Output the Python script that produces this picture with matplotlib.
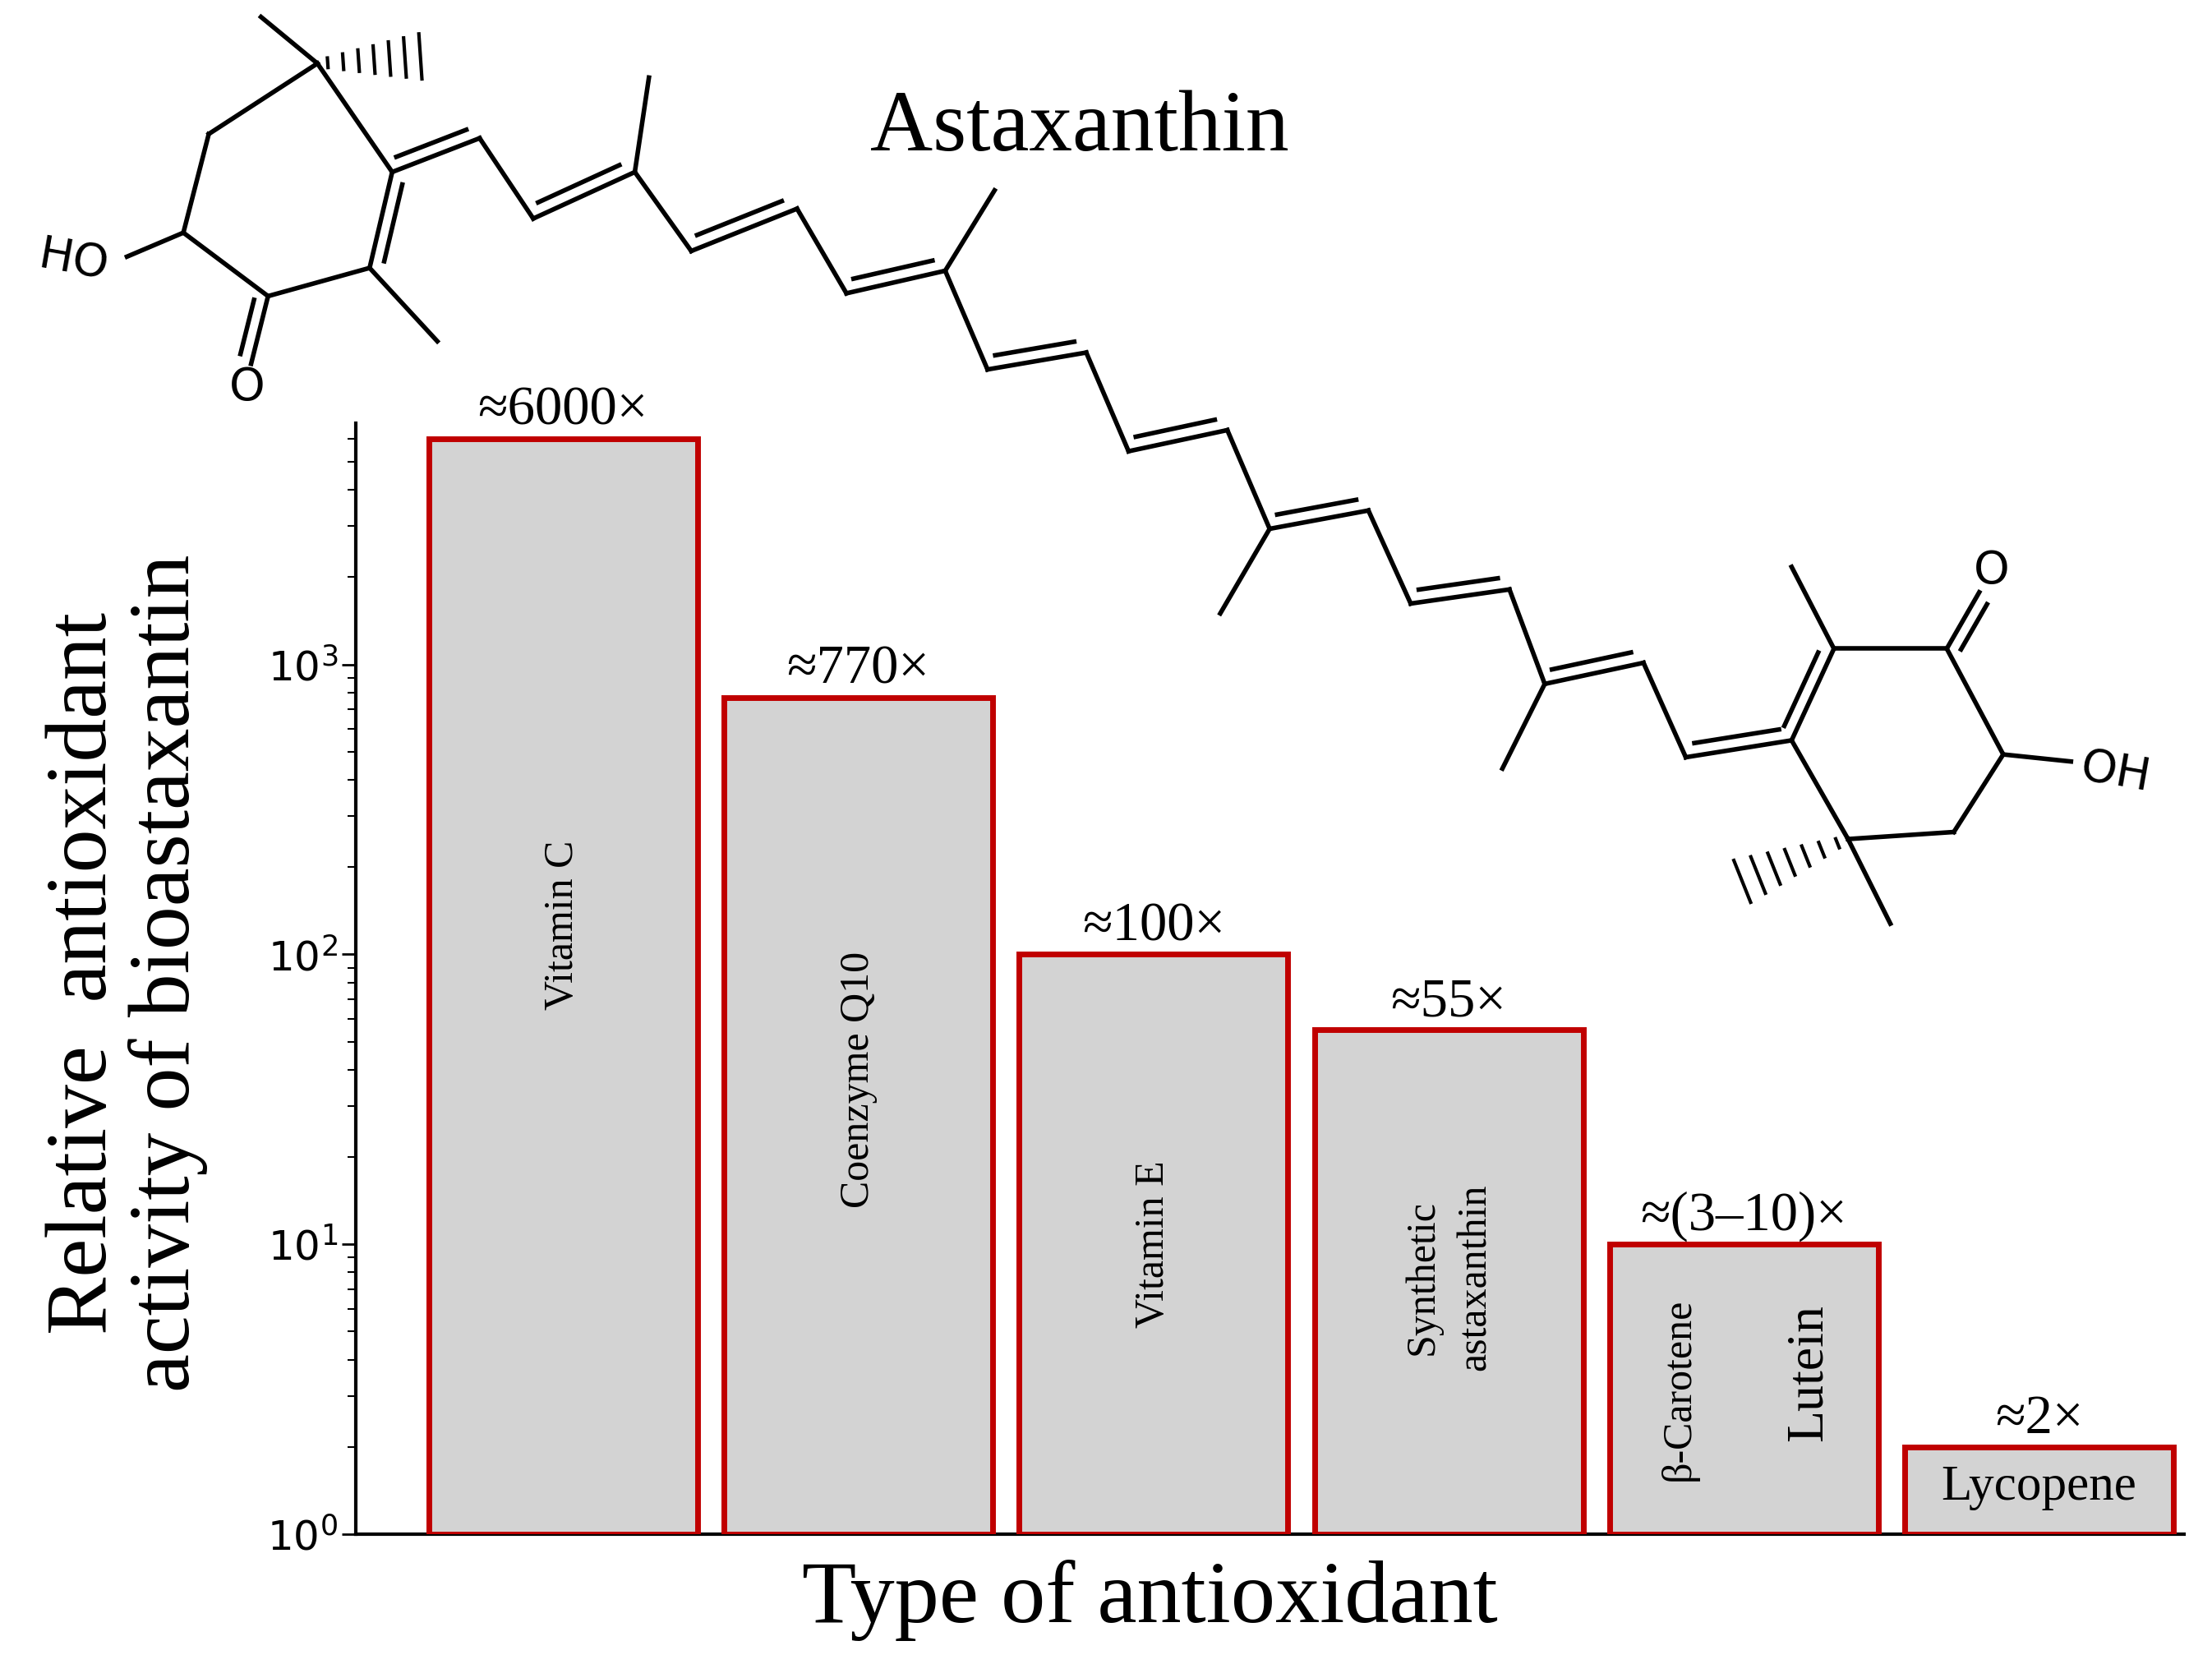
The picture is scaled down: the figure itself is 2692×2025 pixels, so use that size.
import matplotlib
matplotlib.use("Agg")
import matplotlib.pyplot as plt
import numpy as np

categories = ["Vitamin C", "Coenzyme Q10", "Vitamin E", "Synthetic\nastaxanthin", "β-Carotene", "Lycopene"]
values = [6000, 770, 100, 55, 10, 2]
annotations = ["≈6000×", "≈770×", "≈100×", "≈55×", "≈(3–10)×", "≈2×"]

SERIF = ["Liberation Serif", "DejaVu Serif"]
W, H = 1568.0, 1180.0
fig = plt.figure(figsize=(26.92, 20.25), dpi=100)
ax = fig.add_axes([252/W, 1-1088/H, (1548-252)/W, (1088-300)/H])

x = np.arange(len(values))
heights = [v - 1 for v in values]
ax.bar(x, heights, width=0.91, bottom=1, color="#d3d3d3", edgecolor="#c00000", linewidth=5, zorder=3)
ax.set_yscale("log")
ax.set_ylim(1, 6800)
ax.set_xlim(-0.703, 5.49)
ax.set_xticks([])
for s in ["top", "right"]:
    ax.spines[s].set_visible(False)
for s in ["left", "bottom"]:
    ax.spines[s].set_linewidth(3)
ax.tick_params(axis="y", which="major", labelsize=36, length=12, width=2)
ax.tick_params(axis="y", which="minor", length=7, width=1.5)

for xi, v, a in zip(x, values, annotations):
    ax.text(xi, v * 1.02, a, ha="center", va="bottom", fontsize=48, family=SERIF)

lab_y = [126, 37, 10, 7.7]
for i in range(4):
    ax.text(x[i], lab_y[i], categories[i], rotation=90, ha="center", va="center",
            fontsize=36, family=SERIF, linespacing=1.5)
ax.text(x[4] - 0.22, 3.16, categories[4], rotation=90, ha="center", va="center", fontsize=36, family=SERIF)
ax.text(x[4] + 0.22, 3.6, "Lutein", rotation=90, ha="center", va="center", fontsize=46, family=SERIF)
ax.text(x[5], 1.45, categories[5], ha="center", va="center", fontsize=44, family=SERIF)

fig.text(815/W, 1-1135/H, "Type of antioxidant", ha="center", va="center", fontsize=78, family=SERIF)
fig.text(90/W, 1-690/H, "Relative  antioxidant\nactivity of bioastaxantin", rotation=90,
         ha="center", va="center", fontsize=76, family=SERIF, linespacing=1.05)
fig.text(765/W, 1-92/H, "Astaxanthin", ha="center", va="center", fontsize=76, family=SERIF)

def P(p):
    return (p[0]/W, 1-p[1]/H)

def line(a, b, double=False, side=1):
    A, B = np.array(P(a)), np.array(P(b))
    fig.add_artist(plt.Line2D([A[0], B[0]], [A[1], B[1]], color="k", lw=4, transform=fig.transFigure))
    if double:
        d = np.array(b, float) - np.array(a, float)
        n = np.array([-d[1], d[0]]) / np.hypot(*d) * 9 * side
        a2 = np.array(a, float) + n + d * 0.1
        b2 = np.array(b, float) + n - d * 0.1
        A2, B2 = P(a2), P(b2)
        fig.add_artist(plt.Line2D([A2[0], B2[0]], [A2[1], B2[1]], color="k", lw=4, transform=fig.transFigure))

def hashed(a, b):
    a = np.array(a, float); b = np.array(b, float)
    d = b - a
    n = np.array([-d[1], d[0]]) / np.hypot(*d)
    for t in np.linspace(0.1, 1, 7):
        c = a + d * t
        w = 2 + 14 * t
        p1, p2 = P(c + n * w), P(c - n * w)
        fig.add_artist(plt.Line2D([p1[0], p2[0]], [p1[1], p2[1]], color="k", lw=3, transform=fig.transFigure))

C1, C2, C3, C4, C5, C6 = (225, 45), (148, 95), (130, 165), (190, 210), (262, 190), (278, 122)
line(C1, C2); line(C2, C3); line(C3, C4); line(C4, C5); line(C5, C6, True, 1); line(C6, C1)
line(C1, (185, 12)); hashed(C1, (298, 40)); line(C5, (310, 242))
line(C4, (178, 258), True, 1); line(C3, (90, 182))
fig.text(*P((175, 275)), "O", ha="center", va="center", fontsize=40)
fig.text(*P((52, 185)), "HO", ha="center", va="center", fontsize=40, rotation=-10)

chain = [(278, 122), (340, 98), (378, 155), (450, 122), (490, 178), (565, 148), (600, 208),
         (670, 192), (700, 262), (770, 250), (800, 320), (870, 305), (900, 375), (970, 362),
         (1000, 428), (1070, 418), (1095, 485), (1165, 470), (1195, 537), (1270, 525)]
for i in range(len(chain) - 1):
    line(chain[i], chain[i+1], double=(i % 2 == 0), side=-1)
line((450, 122), (460, 55)); line((670, 192), (705, 135))
line((900, 375), (865, 435)); line((1095, 485), (1065, 545))

D6, D5, D4, D3, D2, D1 = (1270, 525), (1300, 460), (1380, 460), (1420, 535), (1385, 590), (1310, 595)
line(D6, D5, True, -1); line(D5, D4); line(D4, D3); line(D3, D2); line(D2, D1); line(D1, D6)
line(D5, (1270, 402)); line(D4, (1403, 420), True, 1); line(D3, (1468, 540))
line(D1, (1340, 655)); hashed(D1, (1235, 625))
fig.text(*P((1412, 405)), "O", ha="center", va="center", fontsize=40)
fig.text(*P((1500, 548)), "OH", ha="center", va="center", fontsize=40, rotation=-10)

fig.savefig("out.png", dpi=100)
